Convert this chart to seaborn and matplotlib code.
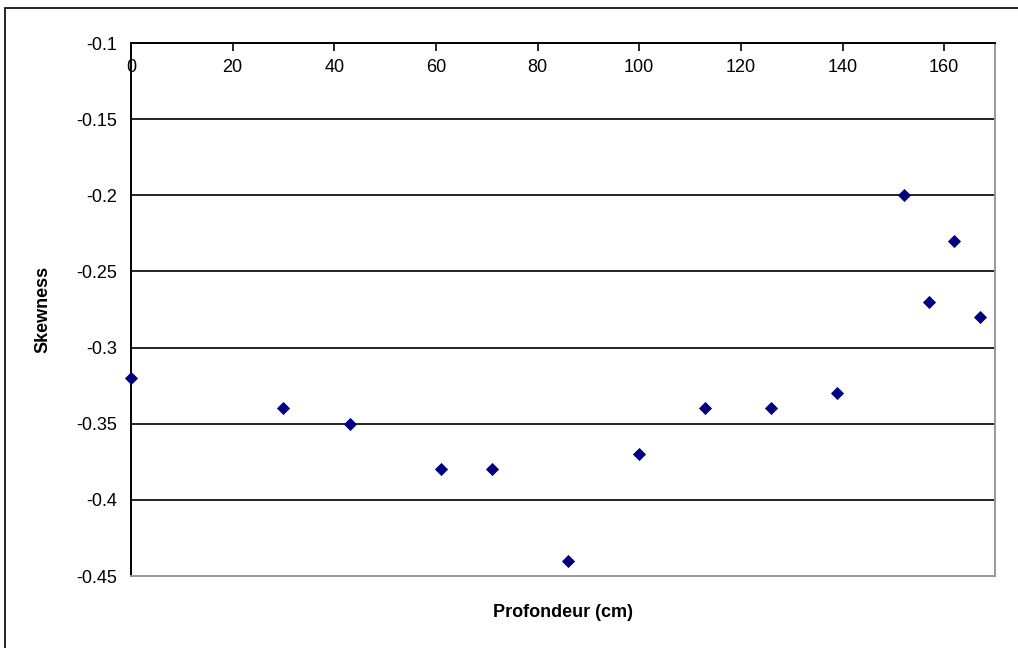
import matplotlib
matplotlib.use('Agg')
import matplotlib.pyplot as plt
import seaborn as sns
import pandas as pd
from matplotlib.patches import Rectangle

# Données
profondeur = [0, 30, 43, 61, 71, 86, 100, 113, 126, 139, 152, 157, 162, 167]
skewness = [-0.32, -0.34, -0.35, -0.38, -0.38, -0.44, -0.37, -0.34, -0.34, -0.33,
            -0.20, -0.27, -0.23, -0.28]
x_ticks = [0, 20, 40, 60, 80, 100, 120, 140, 160]
y_ticks = [-0.45, -0.4, -0.35, -0.3, -0.25, -0.2, -0.15, -0.1]
y_labels = ['-0.45', '-0.4', '-0.35', '-0.3', '-0.25', '-0.2', '-0.15', '-0.1']

df = pd.DataFrame({'Profondeur': profondeur, 'Skewness': skewness})

sns.set_style('white')
plt.rcParams['font.family'] = ['Liberation Sans', 'DejaVu Sans']
plt.rcParams['text.color'] = 'black'
plt.rcParams['axes.labelcolor'] = 'black'
plt.rcParams['xtick.color'] = 'black'
plt.rcParams['ytick.color'] = 'black'

fig = plt.figure(figsize=(10.18, 6.48), dpi=100)
ax = fig.add_axes([0.1287, 0.1111, 0.9774 - 0.1287, 0.9336 - 0.1111])

# cadre extérieur
fig.patches.append(Rectangle((5 / 1018, -0.05), 1.1, 1 - 8 / 648 + 0.05,
                             transform=fig.transFigure, fill=False,
                             edgecolor='black', linewidth=1.2))

sns.scatterplot(data=df, x='Profondeur', y='Skewness', ax=ax, marker='D',
                color='#000080', s=45, edgecolor='#000080', linewidth=0, zorder=5,
                clip_on=False)

ax.set_xlim(0, 170)
ax.set_ylim(-0.45, -0.1)

for yv in y_ticks[1:]:
    ax.axhline(yv, color='black', linewidth=1.2, zorder=1)

ax.set_yticks(y_ticks)
ax.set_yticklabels(y_labels, fontsize=13)
ax.tick_params(axis='y', direction='out', length=6, width=1.2, color='black', pad=4)

# axe x en haut, graduations vers l'intérieur, libellés sous la ligne
ax.set_xticks(x_ticks)
ax.xaxis.set_ticks_position('top')
ax.tick_params(axis='x', direction='in', length=6, width=1.2, color='black',
               labeltop=True, labelbottom=False, pad=-24, labelsize=13)

ax.spines['left'].set_color('black')
ax.spines['left'].set_linewidth(1.4)
ax.spines['top'].set_color('black')
ax.spines['top'].set_linewidth(1.4)
ax.spines['right'].set_color('#999999')
ax.spines['right'].set_linewidth(1.4)
ax.spines['bottom'].set_color('#999999')
ax.spines['bottom'].set_linewidth(1.4)

ax.set_xlabel('Profondeur (cm)', fontsize=13, fontweight='bold', labelpad=20)
ax.set_ylabel('Skewness', fontsize=13, fontweight='bold', labelpad=18)

fig.savefig('out.png', dpi=100)
